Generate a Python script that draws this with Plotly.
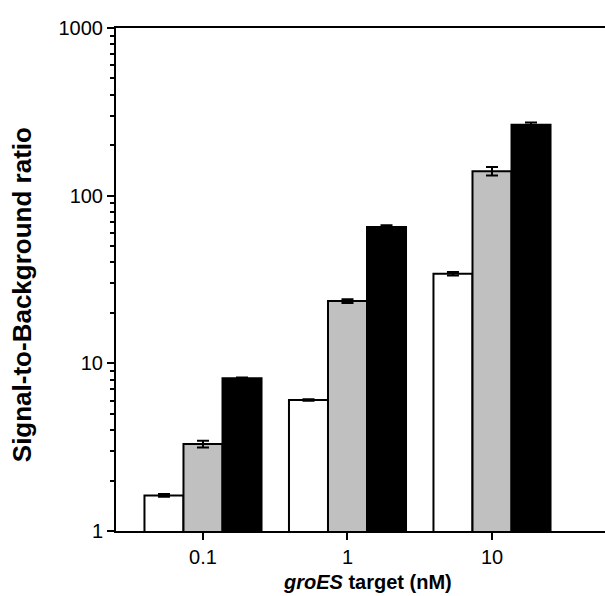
import plotly.graph_objects as go

categories = ["0.1", "1", "10"]
series_names = ["A", "B", "C"]
values_white = [1.63, 6.05, 34.2]
err_white = [0.03, 0.06, 0.8]
values_gray = [3.3, 23.5, 140]
err_gray = [0.15, 0.6, 8]
values_black = [8.15, 65.0, 265]
err_black = [0.08, 1.5, 8]
ytick_vals = [1, 10, 100, 1000]
ytick_text = ["1", "10", "100", "1000"]
minor_vals = [m * d for d in (1, 10, 100) for m in range(2, 10)]

FONT = "Liberation Sans, Arial, sans-serif"

fig = go.Figure()
for name, vals, errs, col in [
    (series_names[0], values_white, err_white, "white"),
    (series_names[1], values_gray, err_gray, "#c0c0c0"),
    (series_names[2], values_black, err_black, "black"),
]:
    fig.add_trace(go.Bar(
        x=categories, y=vals, name=name,
        marker=dict(color=col, line=dict(color="black", width=2)),
        error_y=dict(type="data", array=errs, visible=True, color="black",
                     thickness=2, width=6),
    ))

fig.update_layout(
    width=605, height=596,
    margin=dict(l=116, r=0, t=28, b=65),
    paper_bgcolor="white", plot_bgcolor="white",
    barmode="group", bargap=0.19, bargroupgap=0,
    showlegend=False,
    font=dict(family=FONT, color="black", size=20),
    xaxis=dict(
        type="category", range=[-0.602, 2.782],
        showline=True, linecolor="black", linewidth=2, mirror=True,
        ticks="outside", ticklen=7, tickwidth=2, tickcolor="black",
        showgrid=False, zeroline=False,
        tickfont=dict(size=20, family=FONT),
    ),
    yaxis=dict(
        type="log", range=[0, 3],
        showline=True, linecolor="black", linewidth=2,
        ticks="outside", ticklen=7, tickwidth=2, tickcolor="black",
        tickvals=ytick_vals, ticktext=ytick_text,
        minor=dict(tickvals=minor_vals, ticks="outside", ticklen=4, tickwidth=1.5,
                   tickcolor="black", showgrid=False),
        showgrid=False, zeroline=False,
        tickfont=dict(size=20, family=FONT),
    ),
    annotations=[
        dict(text="<b>Signal-to-Background ratio</b>", xref="paper", yref="paper",
             x=-0.192, y=0.469, xanchor="center", yanchor="middle", textangle=-90,
             showarrow=False, font=dict(size=26, family=FONT, color="black")),
        dict(text="<b><i>groES</i> target (nM)</b>", xref="paper", yref="paper",
             x=0.515, y=-0.102, xanchor="center", yanchor="middle",
             showarrow=False, font=dict(size=20, family=FONT, color="black")),
    ],
)

fig.write_html("out.html")
